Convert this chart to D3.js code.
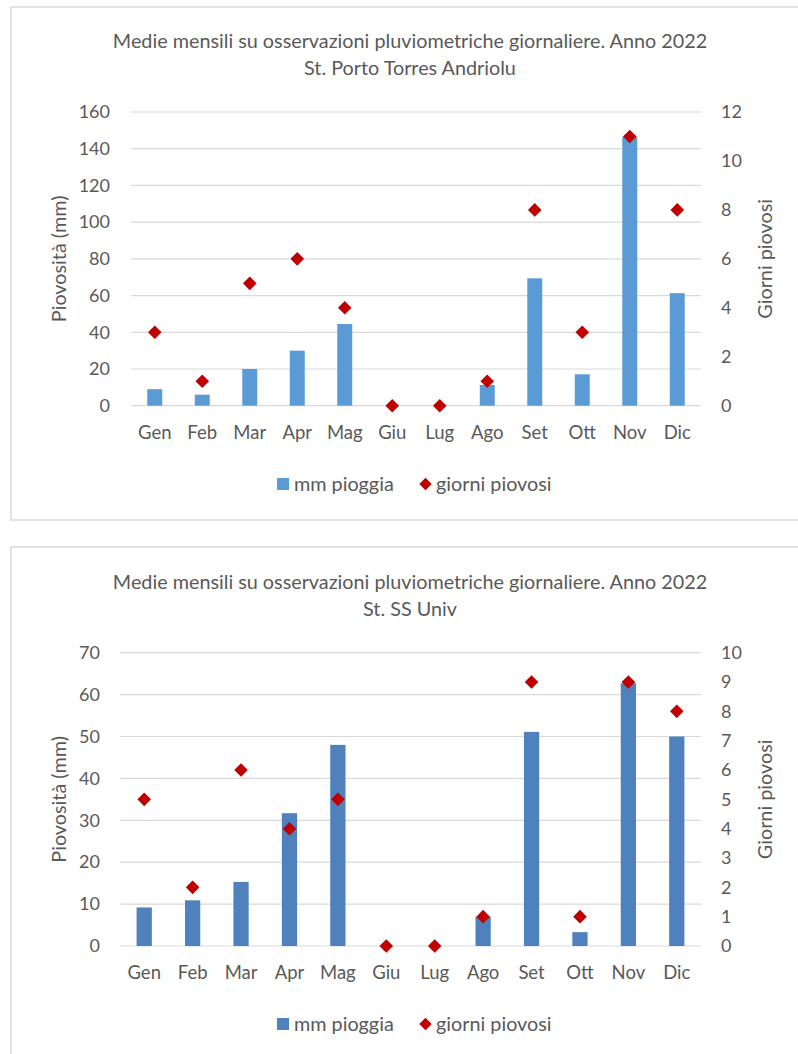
<!DOCTYPE html>
<html>
<head>
<meta charset="utf-8">
<script src="https://cdn.jsdelivr.net/npm/d3@7"></script>
<style>
  html, body { margin: 0; padding: 0; background: #ffffff; }
  svg { display: block; }
  text { font-family: Lato, "Open Sans", sans-serif; fill: #595959; }
</style>
</head>
<body>
<svg id="chart" width="798" height="1054"></svg>
<script>
// Month labels shared by both stations
const months = ["Gen", "Feb", "Mar", "Apr", "Mag", "Giu", "Lug", "Ago", "Set", "Ott", "Nov", "Dic"];

// St. Porto Torres Andriolu
const rainPortoTorres = [9, 6, 20, 30, 44.5, 0, 0, 11.3, 69.4, 17.1, 146.5, 61.3];
const daysPortoTorres = [3, 1, 5, 6, 4, 0, 0, 1, 8, 3, 11, 8];
const rainTicksPortoTorres = [0, 20, 40, 60, 80, 100, 120, 140, 160];
const dayTicksPortoTorres = [0, 2, 4, 6, 8, 10, 12];

// St. SS Univ
const rainSSUniv = [9.2, 10.9, 15.3, 31.7, 48, 0, 0, 7, 51.1, 3.3, 62.7, 50];
const daysSSUniv = [5, 2, 6, 4, 5, 0, 0, 1, 9, 1, 9, 8];
const rainTicksSSUniv = [0, 10, 20, 30, 40, 50, 60, 70];
const dayTicksSSUniv = [0, 1, 2, 3, 4, 5, 6, 7, 8, 9, 10];

const titleLine1 = "Medie mensili su osservazioni pluviometriche giornaliere. Anno 2022";
const leftAxisTitle = "Piovosità (mm)";
const rightAxisTitle = "Giorni piovosi";
const legendBars = "mm pioggia";
const legendDays = "giorni piovosi";

const svg = d3.select("#chart");
const FONT_TEXT = 19.8;   // titles, axis titles, legend
const FONT_TICK = 18;     // numeric tick labels
const FONT_CAT = 18.5;    // month labels
const DIAMOND = 6.8;      // half-diagonal of the day markers

function diamondPath(r) {
  return `M0,${-r}L${r},0L0,${r}L${-r},0Z`;
}

function styleTicks(sel, size) {
  sel.selectAll("text").attr("fill", "#595959")
    .style("font-size", size + "px")
    .style("font-family", "Lato, 'Open Sans', sans-serif");
}

function drawPanel(opt) {
  const g = svg.append("g");

  // chart frame
  g.append("rect")
    .attr("x", opt.frame.x).attr("y", opt.frame.y)
    .attr("width", opt.frame.w).attr("height", opt.frame.h)
    .attr("fill", "#ffffff").attr("stroke", "#d9d9d9").attr("stroke-width", 1.5);

  // title, two lines
  g.append("text").attr("x", 410).attr("y", opt.titleY).attr("dy", "0.35em")
    .attr("text-anchor", "middle").style("font-size", FONT_TEXT + "px").text(titleLine1);
  g.append("text").attr("x", 410).attr("y", opt.titleY + 27).attr("dy", "0.35em")
    .attr("text-anchor", "middle").style("font-size", FONT_TEXT + "px").text(opt.station);

  const x = d3.scaleBand().domain(months).range([opt.plot.x0, opt.plot.x1]).padding(0);
  const yL = d3.scaleLinear().domain([0, opt.leftMax]).range([opt.plot.y0, opt.plot.yTop]);
  const yR = d3.scaleLinear().domain([0, opt.rightMax]).range([opt.plot.y0, opt.plot.yTop]);

  // gridlines
  g.append("g").selectAll("line").data(opt.leftTicks).join("line")
    .attr("x1", opt.plot.x0).attr("x2", opt.plot.x1)
    .attr("y1", d => yL(d)).attr("y2", d => yL(d))
    .attr("stroke", "#d9d9d9").attr("stroke-width", 1.2);

  // left axis
  g.append("g").attr("transform", `translate(${opt.leftLabelX},0)`)
    .call(d3.axisLeft(yL).tickValues(opt.leftTicks).tickSize(0).tickPadding(0))
    .call(a => a.select(".domain").remove())
    .call(a => styleTicks(a, FONT_TICK));

  // right axis
  g.append("g").attr("transform", `translate(${opt.rightLabelX},0)`)
    .call(d3.axisRight(yR).tickValues(opt.rightTicks).tickSize(0).tickPadding(0))
    .call(a => a.select(".domain").remove())
    .call(a => styleTicks(a, FONT_TICK));

  // category axis
  g.append("g").attr("transform", `translate(0,${opt.catY})`)
    .call(d3.axisBottom(x).tickSize(0).tickPadding(0))
    .call(a => a.select(".domain").remove())
    .call(a => styleTicks(a, FONT_CAT))
    .call(a => a.selectAll("text").attr("y", 0).attr("dy", "0.35em"));

  // bars
  const barW = x.bandwidth() * 0.315;
  g.append("g").selectAll("rect").data(opt.rain).join("rect")
    .attr("x", (d, i) => x(months[i]) + (x.bandwidth() - barW) / 2)
    .attr("width", barW)
    .attr("y", d => yL(d))
    .attr("height", d => yL(0) - yL(d))
    .attr("fill", opt.barColor);

  // rainy-day markers
  g.append("g").selectAll("path").data(opt.days).join("path")
    .attr("d", diamondPath(DIAMOND))
    .attr("transform", (d, i) => `translate(${x(months[i]) + x.bandwidth() / 2},${yR(d)})`)
    .attr("fill", "#c00000");

  // axis titles
  const midY = (opt.plot.y0 + opt.plot.yTop) / 2;
  g.append("text")
    .attr("transform", `translate(${opt.leftTitleX},${midY}) rotate(-90)`)
    .attr("text-anchor", "middle").attr("dy", "0.35em")
    .style("font-size", FONT_TEXT + "px").text(leftAxisTitle);
  g.append("text")
    .attr("transform", `translate(765,${midY}) rotate(-90)`)
    .attr("text-anchor", "middle").attr("dy", "0.35em")
    .style("font-size", FONT_TEXT + "px").text(rightAxisTitle);

  // legend
  const lg = g.append("g").attr("transform", `translate(0,${opt.legendY})`);
  lg.append("rect").attr("x", 277).attr("y", -6).attr("width", 12).attr("height", 12)
    .attr("fill", opt.barColor);
  lg.append("text").attr("x", 294).attr("dy", "0.35em").style("font-size", FONT_TEXT + "px").text(legendBars);
  lg.append("path").attr("d", diamondPath(6.2)).attr("transform", "translate(425.5,0)").attr("fill", "#c00000");
  lg.append("text").attr("x", 436).attr("dy", "0.35em").style("font-size", FONT_TEXT + "px").text(legendDays);
}

drawPanel({
  frame: { x: 11, y: 7, w: 800, h: 513 },
  titleY: 41,
  station: "St. Porto Torres Andriolu",
  plot: { x0: 131, x1: 701, yTop: 112, y0: 405.7 },
  leftMax: 160, rightMax: 12,
  leftTicks: rainTicksPortoTorres, rightTicks: dayTicksPortoTorres,
  leftLabelX: 110, rightLabelX: 721, leftTitleX: 59,
  catY: 433, legendY: 484,
  rain: rainPortoTorres, days: daysPortoTorres,
  barColor: "#5b9bd5"
});

drawPanel({
  frame: { x: 11, y: 547, w: 800, h: 513 },
  titleY: 581.7,
  station: "St. SS Univ",
  plot: { x0: 120, x1: 701, yTop: 652.7, y0: 946 },
  leftMax: 70, rightMax: 10,
  leftTicks: rainTicksSSUniv, rightTicks: dayTicksSSUniv,
  leftLabelX: 100, rightLabelX: 721, leftTitleX: 59,
  catY: 973, legendY: 1024,
  rain: rainSSUniv, days: daysSSUniv,
  barColor: "#4f81bd"
});
</script>
</body>
</html>
